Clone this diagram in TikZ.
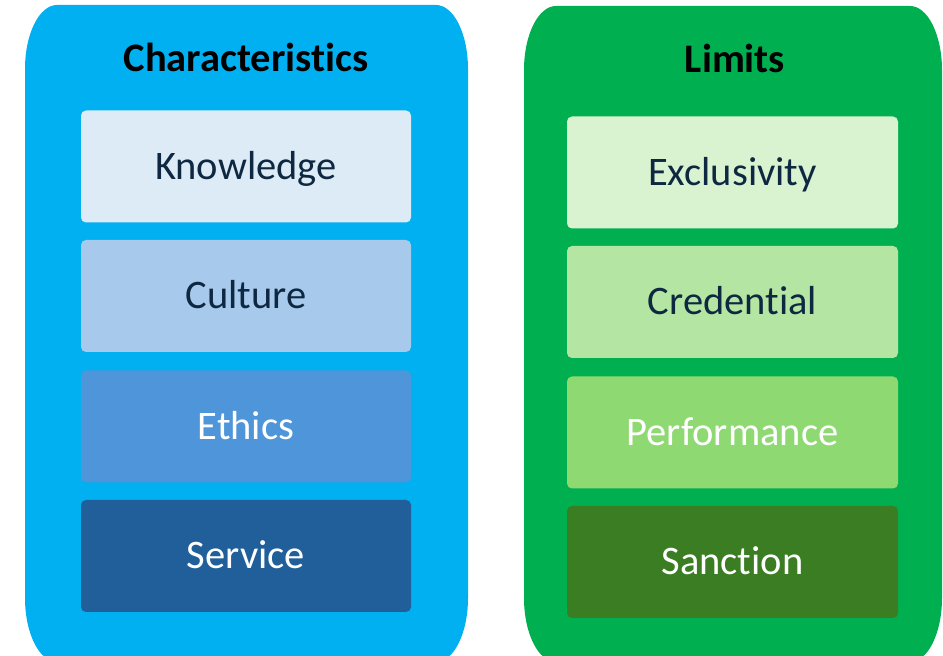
\documentclass[tikz,border=0pt]{standalone}
\usepackage{fontspec}
\setmainfont[Ligatures={NoCommon}]{Carlito}
\definecolor{charblue}{HTML}{00B0F0}
\definecolor{limgreen}{HTML}{00B050}
\definecolor{knowfill}{HTML}{DDEBF7}
\definecolor{cultfill}{HTML}{A6C9EC}
\definecolor{ethfill}{HTML}{4F95DA}
\definecolor{servfill}{HTML}{215F9A}
\definecolor{exclfill}{HTML}{D9F2D0}
\definecolor{credfill}{HTML}{B4E5A2}
\definecolor{perffill}{HTML}{8FD973}
\definecolor{sancfill}{HTML}{3B7D23}
\definecolor{darktext}{HTML}{0E2841}
\newcommand{\panelpath}[4]{(#1+32,#4) -- (#3-32,#4)
    arc[start angle=90, end angle=0, x radius=32pt, y radius=64pt] -- (#3,#2+64)
    arc[start angle=0, end angle=-90, x radius=32pt, y radius=64pt] -- (#1+32,#2)
    arc[start angle=270, end angle=180, x radius=32pt, y radius=64pt] -- (#1,#4-64)
    arc[start angle=180, end angle=90, x radius=32pt, y radius=64pt] -- cycle}

\begin{document}
\begin{tikzpicture}[x=1pt, y=1pt,
    itembox/.style = {rounded corners=5pt, minimum height=112pt, text height=26pt, text depth=0pt,
                      inner sep=0pt, font = {\fontsize{40.5}{48}\selectfont}},
    leftbox/.style = {itembox, minimum width=330pt},
    rightbox/.style = {itembox, minimum width=331pt},
    title/.style = {anchor=base, black, font = {\fontsize{40.5}{48}\selectfont\bfseries}}]
            \useasboundingbox (0, 0) rectangle (943, 656);
            \clip (0, 0) rectangle (943, 656);
            \fill[white] (0, 0) rectangle (943, 656);

            % panels
            \fill[charblue] \panelpath{25}{-6}{468}{651};
            \fill[limgreen] \panelpath{524}{-6}{942}{650};

            \node[title] (chartitle) at (246, 584) {Characteristics};
            \node[title] (limtitle) at (735, 583) {Limits};

            \node[leftbox, fill=knowfill, text=darktext] (knowledge) at (246, 489.5) {Knowledge};
            \node[leftbox, fill=cultfill, text=darktext] (culture) at (246, 360) {Culture};
            \node[leftbox, fill=ethfill, text=white] (ethics) at (246, 229.5) {Ethics};
            \node[leftbox, fill=servfill, text=white] (service) at (246, 100) {Service};

            \node[rightbox, fill=exclfill, text=darktext] (exclusivity) at (732.5, 483.5) {Exclusivity};
            \node[rightbox, fill=credfill, text=darktext] (credential) at (732.5, 354) {Credential};
            \node[rightbox, fill=perffill, text=white] (performance) at (732.5, 223.5) {Performance};
            \node[rightbox, fill=sancfill, text=white] (sanction) at (732.5, 94) {Sanction};
        \end{tikzpicture}
\end{document}
